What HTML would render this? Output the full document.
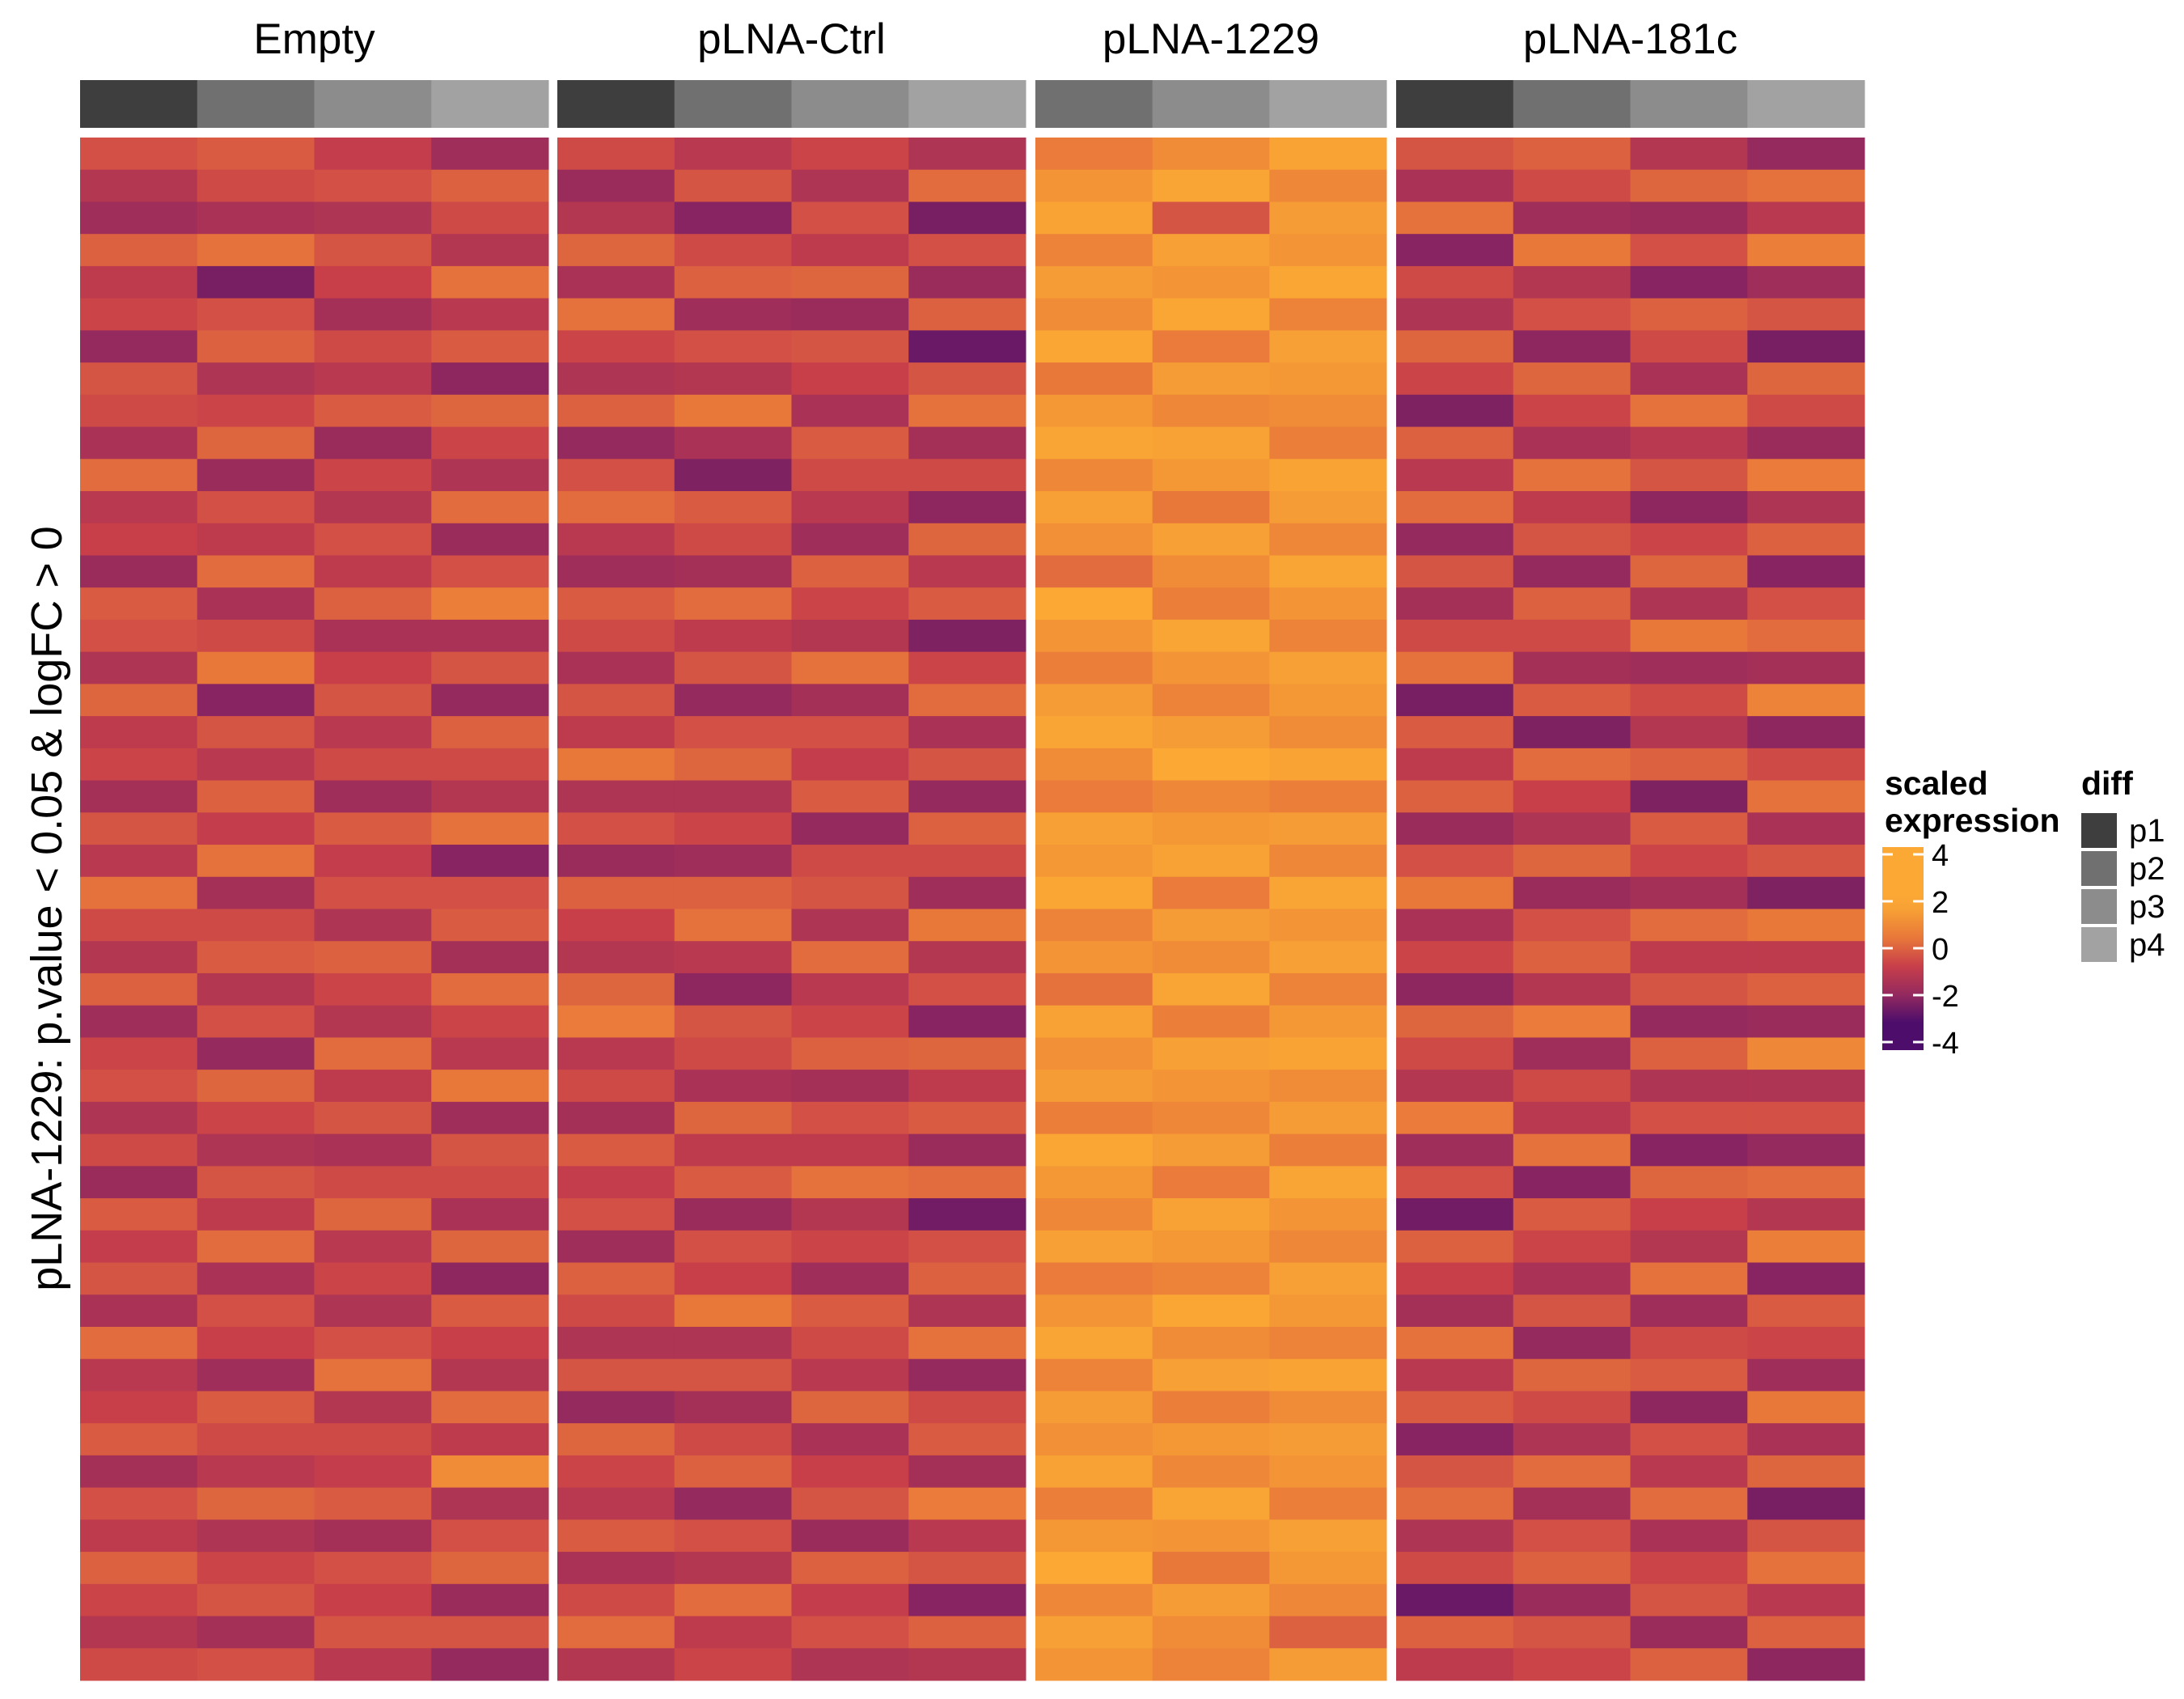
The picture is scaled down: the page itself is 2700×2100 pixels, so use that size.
<!DOCTYPE html>
<html><head><meta charset="utf-8"><style>
body{margin:0;background:#fff;}
svg{display:block;font-family:"Liberation Sans",sans-serif;}
</style></head><body>
<svg id="chart" width="2700" height="2100" viewBox="0 0 2700 2100" xmlns="http://www.w3.org/2000/svg">
<g id="cells"></g>
<g id="annot"></g>
<g id="titles"></g>
<text x="0" y="0" transform="translate(76,1123) rotate(-90)" text-anchor="middle" font-size="54" fill="#000">pLNA-1229: p.value &lt; 0.05 &amp; logFC &gt; 0</text>
<g>
<text x="2330" y="982" font-size="41" font-weight="bold">scaled</text>
<text x="2330" y="1028" font-size="41" font-weight="bold">expression</text>
<defs><linearGradient id="cg" x1="0" y1="1" x2="0" y2="0">
<stop offset="0" stop-color="#4d0e6b"/><stop offset="0.138" stop-color="#4d0e6b"/>
<stop offset="0.276" stop-color="#952a5e"/><stop offset="0.414" stop-color="#c83f4a"/>
<stop offset="0.552" stop-color="#e8773a"/><stop offset="0.69" stop-color="#f7a035"/>
<stop offset="0.76" stop-color="#fba835"/>
<stop offset="1" stop-color="#fba835"/></linearGradient></defs>
<rect x="2327" y="1047" width="51" height="251" fill="url(#cg)"/>
<g id="cticks" stroke="#fff" stroke-width="3"></g>
<g id="clabels" font-size="38"></g>
</g>
<g>
<text x="2573" y="982" font-size="41" font-weight="bold">diff</text>
<g id="dleg"></g>
</g>
</svg>
<script>
const groups = ["Empty","pLNA-Ctrl","pLNA-1229","pLNA-181c"];
const groupCols = [["p1","p2","p3","p4"],["p1","p2","p3","p4"],["p2","p3","p4"],["p1","p2","p3","p4"]];
const e1 = [0.3,-0.4,-0.8,0.6,-0.2,0.1,-1.0,0.4,0.2,-0.6,0.8,-0.3,0.0,-0.9,0.5,0.3,-0.5,0.7,-0.2,0.1,-0.7,0.4,-0.3,0.9,0.2,-0.4,0.6,-0.8,0.1,0.3,-0.5,0.2,-0.9,0.5,-0.1,0.4,-0.6,0.8,-0.3,0.0,0.5,-0.7,0.3,-0.2,0.6,0.1,-0.4,0.2];
const e2 = [0.5,0.2,-0.6,0.9,-1.4,0.3,0.6,-0.5,0.1,0.7,-0.9,0.3,-0.2,0.8,-0.6,0.2,1.0,-1.2,0.4,-0.3,0.6,-0.1,0.9,-0.7,0.2,0.5,-0.4,0.3,-1.0,0.7,0.1,-0.5,0.4,-0.2,0.8,-0.6,0.3,0.0,-0.8,0.5,0.2,-0.3,0.7,-0.5,0.1,0.4,-0.7,0.3];
const e3 = [-0.1,0.3,-0.5,0.4,0.0,-0.7,0.2,-0.3,0.5,-0.9,0.1,-0.4,0.3,-0.2,0.6,-0.6,0.0,0.4,-0.3,0.2,-0.8,0.5,-0.1,0.3,-0.5,0.6,0.1,-0.4,0.8,-0.2,0.4,-0.6,0.2,0.7,-0.3,0.1,-0.5,0.3,0.9,-0.4,0.2,-0.1,0.5,-0.7,0.3,0.0,0.4,-0.3];
const e4 = [-0.8,0.6,0.2,-0.4,0.9,-0.3,0.5,-1.1,0.7,0.1,-0.5,0.8,-0.9,0.3,1.2,-0.6,0.4,-1.0,0.6,0.2,-0.4,0.9,-1.2,0.3,0.5,-0.7,0.8,0.1,-0.3,1.0,-0.8,0.4,0.2,-0.6,0.7,-1.1,0.5,0.0,-0.4,0.8,-0.2,1.5,-0.5,0.3,0.7,-0.9,0.4,-1.0];
const c1 = [0.2,-0.9,-0.4,0.7,-0.6,0.9,0.1,-0.5,0.6,-1.0,0.3,0.8,-0.3,-0.8,0.5,0.2,-0.6,0.4,-0.2,1.0,-0.5,0.3,-0.9,0.6,0.0,-0.4,0.7,1.1,-0.3,0.2,-0.7,0.5,-0.1,0.3,-0.8,0.6,0.2,-0.5,0.4,-1.0,0.7,0.1,-0.3,0.5,-0.6,0.2,0.8,-0.4];
const c2 = [-0.3,0.4,-1.2,0.2,0.6,-0.8,0.3,-0.4,1.0,-0.6,-1.3,0.5,0.2,-0.7,0.8,-0.2,0.4,-1.0,0.3,0.7,-0.5,0.1,-0.8,0.6,0.9,-0.3,-1.1,0.4,0.2,-0.6,0.7,-0.2,0.5,-0.9,0.3,0.0,1.0,-0.5,0.4,-0.7,0.2,0.6,-1.0,0.3,-0.4,0.8,-0.2,0.1];
const c3 = [0.1,-0.5,0.3,-0.2,0.7,-0.9,0.4,0.0,-0.6,0.5,0.2,-0.3,-0.8,0.6,0.1,-0.4,0.9,-0.7,0.3,-0.1,0.5,-1.0,0.2,0.4,-0.5,0.8,-0.3,0.1,0.6,-0.7,0.3,-0.2,0.9,-0.4,0.1,-0.8,0.5,0.2,-0.3,0.7,-0.6,0.0,0.4,-0.9,0.6,-0.1,0.3,-0.5];
const c4 = [-0.5,0.8,-1.4,0.3,-0.9,0.6,-1.6,0.4,0.9,-0.7,0.2,-1.1,0.7,-0.3,0.5,-1.3,0.1,0.8,-0.6,0.4,-1.0,0.6,0.2,-0.8,1.0,-0.4,0.3,-1.2,0.7,-0.2,0.5,-0.9,0.8,-1.5,0.3,0.6,-0.5,0.9,-1.0,0.2,0.5,-0.7,1.1,-0.3,0.4,-1.2,0.6,-0.4];
const m1 = [1.1,1.7,2.2,1.3,1.9,1.5,2.4,1.0,1.8,2.3,1.4,2.0,1.6,0.8,2.5,1.7,1.2,1.9,2.3,1.5,1.1,2.0,1.8,2.4,1.3,1.7,0.9,2.1,1.6,1.9,1.2,2.4,1.8,1.4,2.0,1.1,1.7,2.3,1.3,1.9,1.6,2.1,1.2,1.8,2.5,1.4,2.0,1.7];
const m2 = [1.5,2.3,0.4,2.0,1.7,2.4,1.1,1.9,1.4,2.1,1.8,1.0,2.0,1.5,1.2,2.3,1.7,1.3,1.9,2.5,1.4,1.8,2.1,1.1,1.9,1.5,2.3,1.2,2.0,1.7,1.4,1.9,1.1,2.1,1.8,1.3,2.4,1.5,2.0,1.2,1.8,1.4,2.3,1.7,1.0,1.9,1.5,1.3];
const m3 = [2.2,1.4,1.9,1.7,2.4,1.3,2.0,1.8,1.5,1.2,2.2,1.9,1.4,2.3,1.7,1.3,2.0,1.8,1.5,2.2,1.2,1.9,1.4,2.3,1.7,2.0,1.3,1.8,2.2,1.5,1.9,1.2,2.3,1.7,1.4,2.0,1.8,1.3,2.2,1.5,1.9,1.7,1.2,2.0,1.8,1.4,0.6,1.9];
const f1 = [0.4,-0.6,0.9,-1.2,0.2,-0.5,0.7,0.1,-1.3,0.6,-0.3,0.8,-1.0,0.4,-0.7,0.2,0.9,-1.4,0.5,-0.2,0.6,-0.9,0.3,1.0,-0.6,0.1,-1.1,0.7,0.2,-0.4,1.1,-0.8,0.3,-1.5,0.6,0.0,-0.7,0.9,-0.3,0.5,-1.2,0.4,0.8,-0.5,0.2,-1.6,0.6,-0.2];
const f2 = [0.6,0.2,-0.8,1.0,-0.4,0.3,-1.1,0.7,0.1,-0.6,0.9,-0.2,0.4,-1.0,0.6,0.2,-0.7,0.5,-1.3,0.8,0.0,-0.5,0.7,-0.9,0.3,0.6,-0.4,1.1,-0.8,0.2,-0.3,0.9,-1.2,0.5,0.1,-0.6,0.4,-1.0,0.7,0.2,-0.5,0.8,-0.7,0.3,0.6,-0.9,0.4,0.1];
const f3 = [-0.4,0.7,-0.9,0.3,-1.2,0.6,0.2,-0.6,0.9,-0.3,0.4,-1.1,0.1,0.7,-0.5,1.0,-0.8,0.2,-0.4,0.6,-1.3,0.5,0.1,-0.7,0.8,-0.2,0.4,-1.0,0.6,-0.5,0.3,-1.2,0.7,0.0,-0.4,0.9,-0.8,0.2,0.5,-1.1,0.3,-0.3,0.8,-0.6,0.1,0.4,-0.9,0.6];
const f4 = [-1.0,0.9,-0.3,1.2,-0.8,0.4,-1.4,0.7,0.2,-0.9,1.1,-0.5,0.6,-1.2,0.3,0.8,-0.7,1.3,-1.1,0.2,0.9,-0.6,0.4,-1.3,1.0,-0.2,0.6,-0.9,1.4,-0.5,0.3,-1.0,0.8,-0.4,1.2,-1.2,0.5,0.1,-0.8,1.0,-0.6,0.7,-1.4,0.4,0.9,-0.3,0.6,-1.1];
const groupData = [[e1,e2,e3,e4],[c1,c2,c3,c4],[m1,m2,m3],[f1,f2,f3,f4]];
const colorTicks = [4,2,0,-2,-4];
const diffLevels = ["p1","p2","p3","p4"];

const NS = "http://www.w3.org/2000/svg";
const diffColor = {p1:"#3e3e3e",p2:"#707070",p3:"#8c8c8c",p4:"#a2a2a2"};
const stops = [[-2,[77,14,107]],[-1,[149,42,94]],[0,[200,63,74]],[1,[232,119,58]],[2,[247,160,53]],[2.5,[251,168,53]]];
function colorScale(v){
  if(v<=stops[0][0]) return "rgb("+stops[0][1]+")";
  for(let i=1;i<stops.length;i++){
    if(v<=stops[i][0]){const a=stops[i-1],b=stops[i];const t=(v-a[0])/(b[0]-a[0]);
      return "rgb("+a[1].map((c,k)=>Math.round(c+(b[1][k]-c)*t)).join(",")+")";}
  }
  return "rgb("+stops[stops.length-1][1]+")";
}
const panelX = [[99,678],[689,1268],[1280,1714],[1726,2305]];
const topY=170, bottomY=2077;
function mk(tag,attrs,parent){const e=document.createElementNS(NS,tag);for(const k in attrs)e.setAttribute(k,attrs[k]);parent.appendChild(e);return e;}
const cells=document.getElementById("cells"), annot=document.getElementById("annot"), titles=document.getElementById("titles");
groups.forEach((g,gi)=>{
  const [x0,x1]=panelX[gi]; const cols=groupData[gi]; const cw=(x1-x0)/cols.length;
  const t=mk("text",{x:(x0+x1)/2,y:66,"text-anchor":"middle","font-size":"53"},titles);
  
  
  t.textContent=g;
  cols.forEach((col,ci)=>{
    const rh=(bottomY-topY)/col.length;
    const a=mk("rect",{x:x0+ci*cw,y:99,width:cw+0.5,height:59,fill:diffColor[groupCols[gi][ci]]},annot);
    
    
    col.forEach((v,ri)=>{
      const r=mk("rect",{x:x0+ci*cw,y:topY+ri*rh,width:cw+0.5,height:rh+0.5,fill:colorScale(v)},cells);
      
      
    });
  });
});
const ct=document.getElementById("cticks"), cl=document.getElementById("clabels");
colorTicks.forEach(v=>{
  const y=1172-v*29;
  mk("line",{x1:2327,x2:2340,y1:y,y2:y},ct); mk("line",{x1:2365,x2:2378,y1:y,y2:y},ct);
  const t=mk("text",{x:2388,y:y+14},cl);
  
  
  t.textContent=v;
});
const dl=document.getElementById("dleg");
diffLevels.forEach((p,i)=>{
  const y=1005+i*47;
  const r=mk("rect",{x:2573,y:y,width:44,height:43,fill:diffColor[p]},dl);
  
  
  const t=mk("text",{x:2632,y:y+35,"font-size":"40"},dl);
  
  
  t.textContent=p;
});
</script>
</body></html>
